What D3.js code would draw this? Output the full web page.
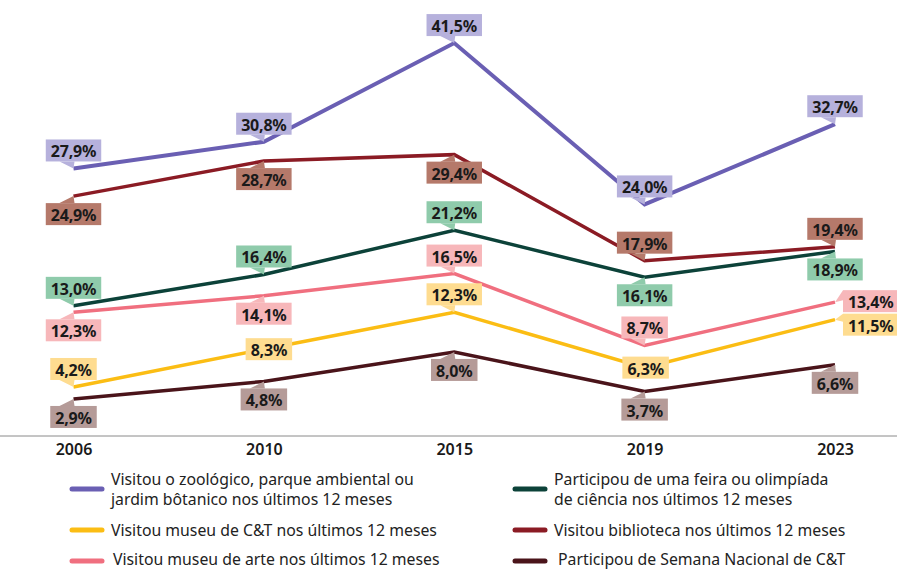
<!DOCTYPE html>
<html>
<head>
<meta charset="utf-8">
<script src="https://cdn.jsdelivr.net/npm/d3@7.9.0/dist/d3.min.js"></script>
<style>
  body { margin: 0; background: #fff; }
  svg { display: block; font-family: 'Noto Sans', sans-serif; }
</style>
</head>
<body>
<svg id="chart" width="897" height="570"></svg>
<script>
// Data
const years = ['2006', '2010', '2015', '2019', '2023'];
const zoo = [27.9, 30.8, 41.5, 24.0, 32.7];
const biblioteca = [24.9, 28.7, 29.4, 17.9, 19.4];
const feira = [13.0, 16.4, 21.2, 16.1, 18.9];
const museuArte = [12.3, 14.1, 16.5, 8.7, 13.4];
const museuCT = [4.2, 8.3, 12.3, 6.3, 11.5];
const semana = [2.9, 4.8, 8.0, 3.7, 6.6];

const seriesNames = {
    zoo: ['Visitou o zoológico, parque ambiental ou', 'jardim bôtanico nos últimos 12 meses'],
    feira: ['Participou de uma feira ou olimpíada', 'de ciência nos últimos 12 meses'],
    museuCT: ['Visitou museu de C&T nos últimos 12 meses'],
    biblioteca: ['Visitou biblioteca nos últimos 12 meses'],
    museuArte: ['Visitou museu de arte nos últimos 12 meses'],
    semana: ['Participou de Semana Nacional de C&T'],
};

// styles + label placement
const series = [
    { key: 'zoo', values: zoo, line: '#6a5fb3', box: '#b6b1dc', width: 4,
      place: ['above', 'above', 'above', 'above', 'above'] },
    { key: 'biblioteca', values: biblioteca, line: '#8b1b24', box: '#b5796a', width: 3.5,
      place: ['below', 'below', 'below', 'above', 'above'] },
    { key: 'feira', values: feira, line: '#0c4239', box: '#8fcbab', width: 3.5,
      place: ['above', 'above', 'above', 'below', 'below'] },
    { key: 'museuArte', values: museuArte, line: '#f06f7f', box: '#f7b7ba', width: 3.5,
      place: ['below', 'below', 'above', 'above', 'right-up'] },
    { key: 'museuCT', values: museuCT, line: '#fbbd14', box: '#fedc90', width: 3.5,
      place: ['above', 'center', 'above', 'center', 'right-down'] },
    { key: 'semana', values: semana, line: '#4a141a', box: '#b59b98', width: 3.5,
      place: ['below', 'below', 'below', 'below', 'below'] },
];

const legendItems = [
    { key: 'zoo', col: 0, y: 489, lines: [479, 499], tx: 111 },
    { key: 'museuCT', col: 0, y: 530, lines: [530], tx: 111 },
    { key: 'museuArte', col: 0, y: 561, lines: [559], tx: 113 },
    { key: 'feira', col: 1, y: 489, lines: [479, 499], tx: 554 },
    { key: 'biblioteca', col: 1, y: 530, lines: [530], tx: 554 },
    { key: 'semana', col: 1, y: 561, lines: [559], tx: 558 },
];

const width = 897;
const height = 570;
const svg = d3.select('#chart');

const x = d3.scalePoint().domain(years).range([73.5, 835]);
const y = d3.scaleLinear().domain([0, 45]).range([425.7, 425.7 - 45 * 9.22]);

// axis
const xAxis = svg.append('g')
    .attr('transform', 'translate(0,436)')
    .call(d3.axisBottom(x).tickSize(0).tickPadding(8));
xAxis.select('.domain').remove();
xAxis.append('line')
    .attr('x1', 0).attr('x2', width)
    .attr('stroke', '#8a8a8a').attr('stroke-width', 1);
xAxis.selectAll('text')
    .attr('font-family', "'Noto Sans', sans-serif")
    .attr('font-size', 16)
    .attr('font-weight', 600)
    .attr('fill', '#1a1a1a');

// lines
const lineGen = d3.line()
    .x((d, i) => x(years[i]))
    .y((d) => y(d));

svg.append('g').selectAll('path')
    .data(series)
    .join('path')
    .attr('d', (s) => lineGen(s.values))
    .attr('fill', 'none')
    .attr('stroke', (s) => s.line)
    .attr('stroke-width', (s) => s.width)
    .attr('stroke-linejoin', 'miter');

// callout labels
const fmt = (v) => v.toFixed(1).replace('.', ',') + '%';
const labels = svg.append('g');
const boxH = 22, gap = 7;

series.forEach((s) => {
    s.values.forEach((v, i) => {
        const px = x(years[i]);
        const py = y(v);
        const pos = s.place[i];
        const g = labels.append('g');
        const t = g.append('text')
            .text(fmt(v))
            .attr('font-size', 16)
            .attr('font-weight', 700)
            .attr('letter-spacing', -0.2)
            .attr('fill', '#1a1a1a')
            .attr('text-anchor', 'middle')
            .attr('dominant-baseline', 'central');
        const w = t.node().getComputedTextLength() + 10;
        let bx, by, pointer = null;
        if (pos === 'above') {
            bx = px - w / 2; by = py - gap - boxH;
            const e = by + boxH;
            pointer = [[px - 14, e], [px + 1, e], [px, py]];
        } else if (pos === 'below') {
            bx = px - w / 2; by = py + gap;
            pointer = [[px - 14, by], [px + 1, by], [px, py]];
        } else if (pos === 'center') {
            bx = px - w / 2 + (i === 1 ? 5 : 1); by = py - boxH / 2;
        } else if (pos === 'right-up') {
            bx = px + 8; by = py - 12;
            pointer = [[bx, by], [bx, by + 10], [px, py]];
        } else if (pos === 'right-down') {
            bx = px + 8; by = py - 6;
            pointer = [[bx, by], [bx, by + 8], [px, py]];
        }
        if (pointer) {
            g.insert('path', 'text')
                .attr('d', d3.line()(pointer) + 'Z')
                .attr('fill', s.box);
        }
        g.insert('rect', 'text')
            .attr('x', bx).attr('y', by)
            .attr('width', w).attr('height', boxH)
            .attr('fill', s.box);
        t.attr('x', bx + w / 2).attr('y', by + boxH / 2 + 1);
    });
});

// legend
const colX = [72, 515];
const legend = svg.append('g');
legendItems.forEach((item) => {
    const s = series.find((d) => d.key === item.key);
    legend.append('line')
        .attr('x1', colX[item.col]).attr('x2', colX[item.col] + 30)
        .attr('y1', item.y).attr('y2', item.y)
        .attr('stroke', s.line)
        .attr('stroke-width', 5)
        .attr('stroke-linecap', 'round');
    seriesNames[item.key].forEach((txt, j) => {
        legend.append('text')
            .attr('x', item.tx)
            .attr('y', item.lines[j])
            .attr('dominant-baseline', 'central')
            .attr('font-size', 15.8)
            .attr('fill', '#222')
            .text(txt);
    });
});
</script>
</body>
</html>
